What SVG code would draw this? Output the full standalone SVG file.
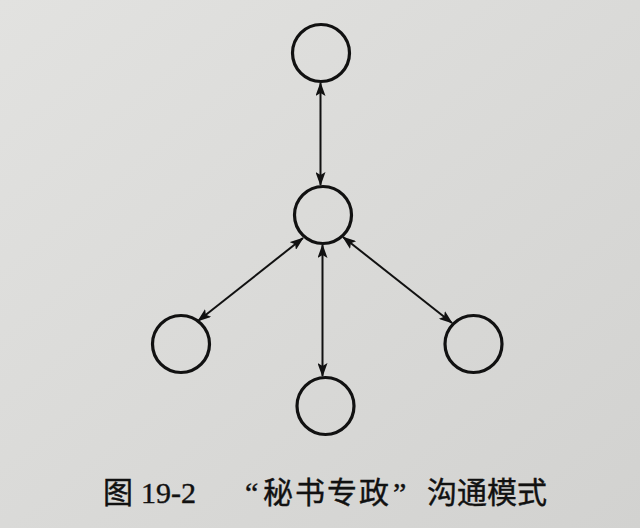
<svg xmlns="http://www.w3.org/2000/svg" width="640" height="528" viewBox="0 0 640 528">
  <defs>
    <linearGradient id="bg" x1="0" y1="0" x2="1" y2="1">
      <stop offset="0" stop-color="#e2e2e0"/>
      <stop offset="1" stop-color="#d2d2d0"/>
    </linearGradient>
    <marker id="ah" viewBox="0 0 14 10" refX="13" refY="5" markerWidth="14" markerHeight="10" markerUnits="userSpaceOnUse" orient="auto-start-reverse">
      <path d="M0,0 L14,5 L0,10 L3,5 Z" fill="#111"/>
    </marker>
    <style>
      .node { fill: none; stroke: #111; stroke-width: 3.2; }
      .edge { stroke: #111; stroke-width: 2; fill: none; marker-start: url(#ah); marker-end: url(#ah); }
      .cap { font-size: 30px; fill: #111; stroke: #111; stroke-width: 0.4; }
      .cjk { font-family: "Noto Sans CJK SC", "Noto Sans", sans-serif; }
      .lat { font-family: "Liberation Serif", "DejaVu Serif", serif; }
    </style>
  </defs>
  <rect width="640" height="528" fill="url(#bg)"/>
  <g id="connectors">
    <line class="edge" x1="320.5" y1="83" x2="320.5" y2="185"/>
    <line class="edge" x1="303" y1="238" x2="198" y2="321"/>
    <line class="edge" x1="343" y1="237" x2="452" y2="323"/>
    <line class="edge" x1="322.5" y1="245" x2="322.5" y2="376"/>
  </g>
  <g id="node-top"><circle class="node" cx="321" cy="53" r="28.5"/></g>
  <g id="node-center"><circle class="node" cx="323" cy="215" r="28.5"/></g>
  <g id="node-left"><circle class="node" cx="181" cy="344" r="28.5"/></g>
  <g id="node-right"><circle class="node" cx="473.5" cy="344" r="28.5"/></g>
  <g id="node-bottom"><circle class="node" cx="325.5" cy="406" r="28.5"/></g>
  <g id="caption">
    <text class="cap" y="503">
      <tspan class="cjk" x="103">图</tspan>
      <tspan class="lat" x="141">19-2</tspan>
      <tspan class="lat" x="245">“</tspan>
      <tspan class="cjk" x="263" letter-spacing="2">秘书专政</tspan>
      <tspan class="lat" x="393">”</tspan>
      <tspan class="cjk" x="427">沟通模式</tspan>
    </text>
  </g>
</svg>
